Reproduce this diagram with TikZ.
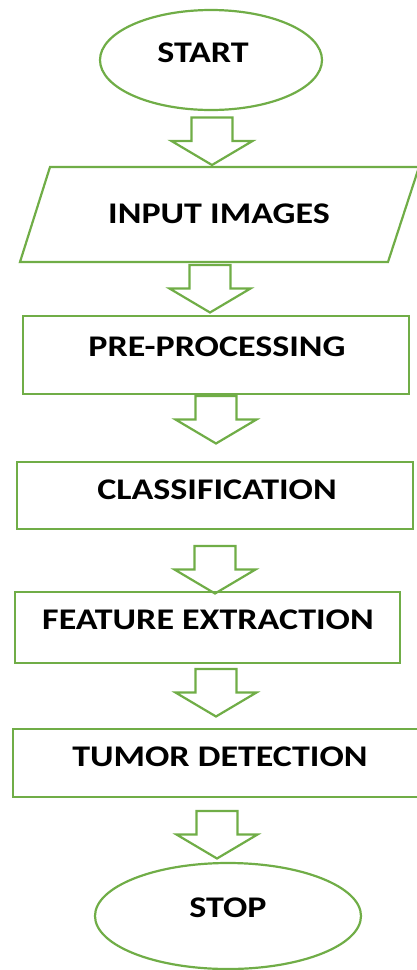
\documentclass[tikz,border=0pt]{standalone}
\usepackage{fontspec}
\setmainfont[FakeStretch=1.2]{Carlito}
\usetikzlibrary{shapes.geometric}
\definecolor{lgreen}{RGB}{112,173,71}
\tikzset{
  shapeline/.style={draw=lgreen, line width=2.2pt},
  boxnode/.style={shapeline, rectangle, inner sep=0pt},
  ovalnode/.style={shapeline, ellipse, inner sep=0pt},
  lbl/.style={font=\fontsize{30}{30}\selectfont\bfseries, text=black, inner sep=0pt, anchor=center},
  pics/blockarrow/.style={code={
    \draw[shapeline, line join=miter]
      (-20.5,0) -- (20.5,0) -- (20.5,23.5) -- (40.5,23.5) -- (0,47.5)
      -- (-40.5,23.5) -- (-20.5,23.5) -- cycle;
  }}
}
\begin{document}
\begin{tikzpicture}[x=1pt,y=-1pt]
\useasboundingbox (0,0) rectangle (417,970);
% shapes
\node[ovalnode, minimum width=222pt, minimum height=100pt] (start) at (211,60) {};
\node[lbl] (startt) at (203,53) {START};

\draw[shapeline, line join=miter] (50,167) -- (419,167) -- (388,262) -- (20,262) -- cycle;
\coordinate (inputc) at (219,214);
\node[lbl] (inputt) at (219,214) {INPUT IMAGES};

\node[boxnode, minimum width=386pt, minimum height=78pt] (pre) at (216,355) {};
\node[lbl] (pret) at (217,347) {PRE-PROCESSING};

\node[boxnode, minimum width=396pt, minimum height=67pt] (cls) at (215,495.5) {};
\node[lbl] (clst) at (217,490) {CLASSIFICATION};

\node[boxnode, minimum width=385pt, minimum height=71pt] (feat) at (207.5,627.5) {};
\node[lbl] (featt) at (208,620) {FEATURE EXTRACTION};

\node[boxnode, minimum width=408pt, minimum height=68pt] (tum) at (217,763) {};
\node[lbl] (tumt) at (220,757) {TUMOR DETECTION};

\node[ovalnode, minimum width=266pt, minimum height=106pt] (stop) at (228,916) {};
\node[lbl] (stopt) at (228,908) {STOP};

% block arrows
\pic at (212,117.5) {blockarrow};
\pic at (210,265) {blockarrow};
\pic at (216,396) {blockarrow};
\pic at (215,546) {blockarrow};
\pic at (216,669) {blockarrow};
\pic at (217,811) {blockarrow};
\end{tikzpicture}
\end{document}
